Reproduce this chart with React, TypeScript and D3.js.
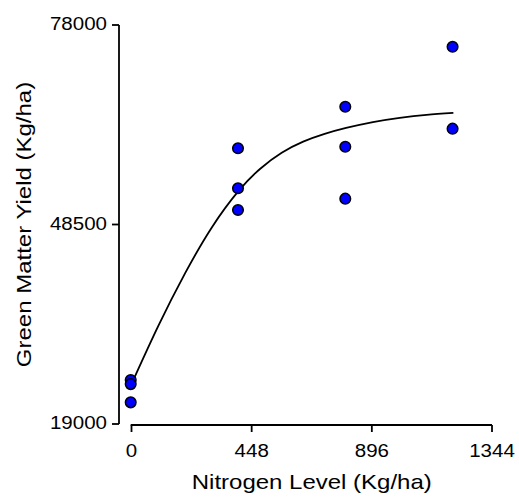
import React from "react";
import * as d3 from "d3";

// Observed data (x: nitrogen level, y: green matter yield)
const obsX = [0, 0, 0, 400, 400, 400, 800, 800, 800, 1200, 1200];
const obsY = [25500, 24900, 22200, 59770, 53850, 50640, 65920, 60000, 52320, 74790, 62670];

// Fitted curve
const fitX = [0, 100, 200, 300, 400, 480, 560, 640, 720, 800, 900, 1000, 1100, 1200];
const fitY = [24900, 33500, 41300, 48100, 53500, 56750, 59100, 60750, 61900, 62780, 63650, 64280, 64720, 65000];

const xTicks = [0, 448, 896, 1344];
const yTicks = [19000, 48500, 78000];

const xTitle = "Nitrogen Level (Kg/ha)";
const yTitle = "Green Matter Yield (Kg/ha)";

export default function App() {
  const W = 519;
  const H = 497;
  const x = d3.scaleLinear().domain([0, 1344]).range([131.5, 492]);
  const y = d3.scaleLinear().domain([19000, 78000]).range([424, 25]);

  const line = d3
    .line<number>()
    .x((_, i) => x(fitX[i]))
    .y((_, i) => y(fitY[i]))
    .curve(d3.curveNatural);

  const font = "'Liberation Sans', Arial, Helvetica, sans-serif";
  const yAxisX = 119;
  const xAxisY = 425;

  return (
    <svg
      width={W}
      height={H}
      style={{ position: "absolute", left: 0, top: 0, background: "#fff" }}
      fontFamily={font}
    >
      <rect width={W} height={H} fill="#fff" />
      {/* Y axis */}
      <line x1={yAxisX} x2={yAxisX} y1={y(78000)} y2={y(19000)} stroke="#000" strokeWidth={1.8} />
      {yTicks.map((t) => (
        <g key={t}>
          <line x1={yAxisX - 7} x2={yAxisX} y1={y(t)} y2={y(t)} stroke="#000" strokeWidth={1.8} />
          <text
            transform={`translate(107,${y(t) + 5}) scale(1.08,1)`}
            textAnchor="end"
            fontSize={19}
            fill="#000"
          >
            {t}
          </text>
        </g>
      ))}
      {/* X axis */}
      <line x1={x(0) - 0.8} x2={x(1344)} y1={xAxisY} y2={xAxisY} stroke="#000" strokeWidth={1.8} />
      {xTicks.map((t) => (
        <g key={t}>
          <line x1={x(t)} x2={x(t)} y1={xAxisY} y2={xAxisY + 7} stroke="#000" strokeWidth={1.8} />
          <text
            transform={`translate(${x(t)},457) scale(1.08,1)`}
            textAnchor="middle"
            fontSize={19}
            fill="#000"
          >
            {t}
          </text>
        </g>
      ))}
      {/* Titles */}
      <text
        transform={`translate(${(x(0) + x(1344)) / 2},489) scale(1.2,1)`}
        textAnchor="middle"
        fontSize={20}
        fill="#000"
      >
        {xTitle}
      </text>
      <text
        transform={`translate(31,${(y(19000) + y(78000)) / 2}) rotate(-90) scale(1.2,1)`}
        textAnchor="middle"
        fontSize={20}
        fill="#000"
      >
        {yTitle}
      </text>
      {/* Fitted curve */}
      <path d={line(fitX) || ""} fill="none" stroke="#000" strokeWidth={1.8} />
      {/* Points */}
      {obsX.map((v, i) => (
        <circle
          key={i}
          cx={x(v) - 0.8}
          cy={y(obsY[i])}
          r={5.3}
          fill="#0000ff"
          stroke="#000"
          strokeWidth={1.5}
        />
      ))}
    </svg>
  );
}
